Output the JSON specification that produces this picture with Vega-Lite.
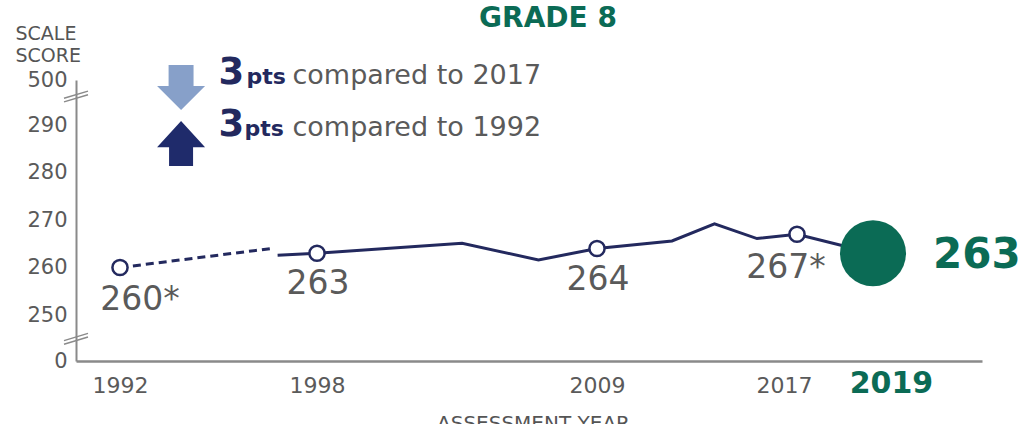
{
  "$schema": "https://vega.github.io/schema/vega-lite/v6.json",
  "width": 906,
  "height": 281,
  "autosize": {"type": "none"},
  "padding": {"left": 76, "top": 80, "right": 47, "bottom": 63},
  "background": "white",
  "config": {"font": "DejaVu Sans", "view": {"stroke": null}},
  "title": {"text": "GRADE 8", "color": "#0b6b55", "fontSize": 28, "fontWeight": "bold", "anchor": "middle", "dx": 19, "offset": 0, "dy": 31, "baseline": "alphabetic", "frame": "group"},
  "datasets": {
    "trend": [
      {"year": 1992, "score": 260, "segment": "dashed"},
      {"year": 1996.6, "score": 264, "segment": "dashed"},
      {"year": 1996.8, "score": 262.6, "segment": "solid"},
      {"year": 1998, "score": 263, "segment": "solid"},
      {"year": 2003.7, "score": 265.1, "segment": "solid"},
      {"year": 2006.7, "score": 261.6, "segment": "solid"},
      {"year": 2009, "score": 264, "segment": "solid"},
      {"year": 2012.0, "score": 265.6, "segment": "solid"},
      {"year": 2013.7, "score": 269.2, "segment": "solid"},
      {"year": 2015.4, "score": 266.1, "segment": "solid"},
      {"year": 2017, "score": 267, "segment": "solid"},
      {"year": 2019, "score": 263, "segment": "solid"}
    ],
    "scores": [
      {"year": 1992, "score": 260, "label": "260*"},
      {"year": 1998, "score": 263, "label": "263"},
      {"year": 2009, "score": 264, "label": "264"},
      {"year": 2017, "score": 267, "label": "267*"},
      {"year": 2019, "score": 263, "label": "263"}
    ],
    "breaks": [{"score": 296}, {"score": 245}]
  },
  "layer": [
    {
      "data": {"name": "trend"},
      "transform": [{"filter": "datum.segment === 'dashed'"}],
      "mark": {"type": "line", "color": "#23295e", "strokeWidth": 3, "strokeDash": [8, 5]},
      "encoding": {
        "x": {
          "field": "year", "type": "quantitative",
          "scale": {"type": "linear", "domain": [1990.66, 1992, 1998, 2009, 2017, 2019, 2021.87], "range": [0, 44, 241, 521, 721, 797, 906], "nice": false, "zero": false},
          "axis": {
            "title": "ASSESSMENT YEAR", "titleFontSize": 20, "titleFontWeight": "normal", "titleColor": "#555555",
            "titleBaseline": "top", "titleAlign": "center", "titleX": 457, "titleY": 52,
            "values": [1992, 1998, 2009, 2017, 2019], "format": "d",
            "grid": false, "ticks": false, "tickSize": 0,
            "domainColor": "#8a8a8a", "domainWidth": 2.5,
            "labelFontSize": {"condition": {"test": "datum.value === 2019", "value": 30}, "value": 22},
            "labelFontWeight": {"condition": {"test": "datum.value === 2019", "value": "bold"}, "value": "normal"},
            "labelColor": {"condition": {"test": "datum.value === 2019", "value": "#0b6b55"}, "value": "#5a5a5a"},
            "labelOffset": {"condition": [{"test": "datum.value === 2019", "value": 18}, {"test": "datum.value === 2017", "value": -13}], "value": 0},
            "labelBaseline": "alphabetic", "labelPadding": 31, "labelFlush": false, "labelOverlap": false
          }
        },
        "y": {
          "field": "score", "type": "quantitative",
          "scale": {"type": "linear", "domain": [0, 245, 296, 500], "range": [281, 258.8, 16.5, 0], "nice": false, "zero": false},
          "axis": {
            "title": ["SCALE", "SCORE"], "titleAngle": 0, "titleAlign": "left", "titleBaseline": "alphabetic",
            "titleX": -61, "titleY": -41, "titleFontSize": 19, "titleFontWeight": "normal", "titleColor": "#555555", "titleLineHeight": 22,
            "values": [0, 250, 260, 270, 280, 290, 500],
            "grid": false, "ticks": false, "tickSize": 0, "labelPadding": 9, "labelFontSize": 21, "labelColor": "#5a5a5a",
            "domainColor": "#8a8a8a", "domainWidth": 2, "labelOverlap": false, "labelFlush": false
          }
        }
      }
    },
    {
      "data": {"name": "trend"},
      "transform": [{"filter": "datum.segment === 'solid'"}],
      "mark": {"type": "line", "color": "#23295e", "strokeWidth": 3},
      "encoding": {"x": {"field": "year", "type": "quantitative"}, "y": {"field": "score", "type": "quantitative"}}
    },
    {
      "data": {"name": "scores"},
      "transform": [{"filter": "datum.year !== 2019"}],
      "mark": {"type": "point", "shape": "circle", "size": 230, "filled": true, "fill": "white", "stroke": "#23295e", "strokeWidth": 2.5, "opacity": 1},
      "encoding": {"x": {"field": "year", "type": "quantitative"}, "y": {"field": "score", "type": "quantitative"}}
    },
    {
      "data": {"name": "scores"},
      "transform": [{"filter": "datum.year === 2019"}],
      "mark": {"type": "circle", "size": 4356, "color": "#0b6b55", "opacity": 1},
      "encoding": {"x": {"field": "year", "type": "quantitative"}, "y": {"field": "score", "type": "quantitative"}}
    },
    {
      "data": {"name": "scores"},
      "transform": [{"filter": "datum.year === 1998 || datum.year === 2009"}],
      "mark": {"type": "text", "fontSize": 33, "color": "#5a5a5a", "align": "center", "baseline": "alphabetic", "dy": 41, "dx": 1},
      "encoding": {"x": {"field": "year", "type": "quantitative"}, "y": {"field": "score", "type": "quantitative"}, "text": {"field": "label"}}
    },
    {
      "data": {"name": "scores"},
      "transform": [{"filter": "datum.year === 1992"}],
      "mark": {"type": "text", "fontSize": 33, "color": "#5a5a5a", "align": "center", "baseline": "alphabetic", "dy": 42, "dx": 20},
      "encoding": {"x": {"field": "year", "type": "quantitative"}, "y": {"field": "score", "type": "quantitative"}, "text": {"field": "label"}}
    },
    {
      "data": {"name": "scores"},
      "transform": [{"filter": "datum.year === 2017"}],
      "mark": {"type": "text", "fontSize": 33, "color": "#5a5a5a", "align": "center", "baseline": "alphabetic", "dy": 44, "dx": -11},
      "encoding": {"x": {"field": "year", "type": "quantitative"}, "y": {"field": "score", "type": "quantitative"}, "text": {"field": "label"}}
    },
    {
      "data": {"name": "scores"},
      "transform": [{"filter": "datum.year === 2019"}],
      "mark": {"type": "text", "fontSize": 42, "fontWeight": "bold", "color": "#0b6b55", "align": "left", "baseline": "alphabetic", "dy": 15, "dx": 60},
      "encoding": {"x": {"field": "year", "type": "quantitative"}, "y": {"field": "score", "type": "quantitative"}, "text": {"field": "label"}}
    },
    {
      "data": {"name": "breaks"},
      "mark": {"type": "point", "shape": "M-1,0.15L1,-0.45M-1,0.45L1,-0.15", "size": 576, "filled": false, "stroke": "#8a8a8a", "strokeWidth": 1.5, "opacity": 1},
      "encoding": {"x": {"datum": 1990.66, "type": "quantitative"}, "y": {"field": "score", "type": "quantitative"}}
    },
    {
      "data": {"values": [{}]},
      "mark": {"type": "point", "shape": "M-0.52,-0.94L0.52,-0.94L0.52,-0.06L1,-0.06L0,0.94L-1,-0.06L-0.52,-0.06Z", "size": 2304, "filled": true, "color": "#87a0c9", "opacity": 1},
      "encoding": {"x": {"datum": 1993.86, "type": "quantitative"}, "y": {"datum": 407.3, "type": "quantitative"}}
    },
    {
      "data": {"values": [{}]},
      "mark": {"type": "point", "shape": "M0,-0.94L1,0.15L0.5,0.15L0.5,0.94L-0.5,0.94L-0.5,0.15L-1,0.15Z", "size": 2304, "filled": true, "color": "#1f2b6b", "opacity": 1},
      "encoding": {"x": {"datum": 1993.86, "type": "quantitative"}, "y": {"datum": 286.1, "type": "quantitative"}}
    },
    {
      "data": {"values": [{}]},
      "mark": {"type": "text", "text": "3", "fontSize": 37, "fontWeight": "bold", "color": "#23295e", "align": "left", "baseline": "alphabetic"},
      "encoding": {"x": {"datum": 1995, "type": "quantitative"}, "y": {"datum": 450.5, "type": "quantitative"}}
    },
    {
      "data": {"values": [{}]},
      "mark": {"type": "text", "text": "pts", "fontSize": 22, "fontWeight": "bold", "color": "#23295e", "align": "left", "baseline": "alphabetic", "dx": 28},
      "encoding": {"x": {"datum": 1995, "type": "quantitative"}, "y": {"datum": 450.5, "type": "quantitative"}}
    },
    {
      "data": {"values": [{}]},
      "mark": {"type": "text", "text": "compared to 2017", "fontSize": 27, "color": "#5a5a5a", "align": "left", "baseline": "alphabetic", "dx": 74},
      "encoding": {"x": {"datum": 1995, "type": "quantitative"}, "y": {"datum": 450.5, "type": "quantitative"}}
    },
    {
      "data": {"values": [{}]},
      "mark": {"type": "text", "text": "3", "fontSize": 37, "fontWeight": "bold", "color": "#23295e", "align": "left", "baseline": "alphabetic"},
      "encoding": {"x": {"datum": 1995, "type": "quantitative"}, "y": {"datum": 287.7, "type": "quantitative"}}
    },
    {
      "data": {"values": [{}]},
      "mark": {"type": "text", "text": "pts", "fontSize": 22, "fontWeight": "bold", "color": "#23295e", "align": "left", "baseline": "alphabetic", "dx": 26},
      "encoding": {"x": {"datum": 1995, "type": "quantitative"}, "y": {"datum": 287.7, "type": "quantitative"}}
    },
    {
      "data": {"values": [{}]},
      "mark": {"type": "text", "text": "compared to 1992", "fontSize": 27, "color": "#5a5a5a", "align": "left", "baseline": "alphabetic", "dx": 74},
      "encoding": {"x": {"datum": 1995, "type": "quantitative"}, "y": {"datum": 287.7, "type": "quantitative"}}
    }
  ]
}
